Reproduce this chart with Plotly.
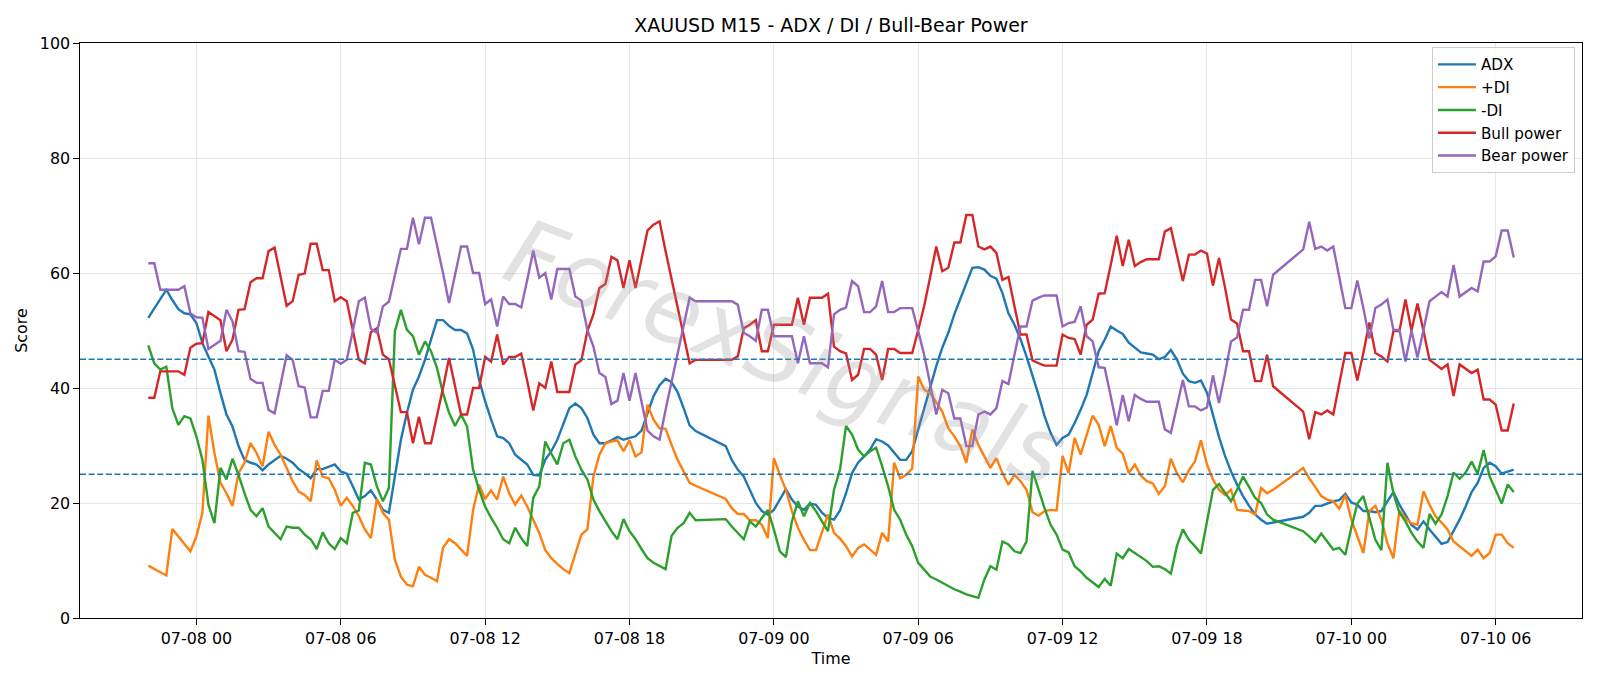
import pandas as pd
import plotly.graph_objects as go

# ---- time axis: three trading sessions of 15-minute bars (daily break 21:00-22:00) ----
segments = [("2025-07-07 22:00", "2025-07-08 20:45"),
            ("2025-07-08 22:00", "2025-07-09 20:45"),
            ("2025-07-09 22:00", "2025-07-10 06:45")]
times = []
for a, b in segments:
    times.extend(pd.date_range(a, b, freq="15min"))

# ---- series (one row = one hour, 4 bars) ----
adx = [
    52.2, 53.8, 55.5, 57.1, 55.3, 53.7, 53.0, 52.8, 51.3, 47.8, 45.5, 43.2,
    39.1, 35.4, 33.3, 29.9, 27.5, 27.0, 26.7, 25.7, 26.7, 27.5, 28.2, 27.7,
    27.0, 25.9, 25.2, 24.3, 25.9, 25.9, 26.3, 26.7, 25.5, 25.1, 22.9, 20.6,
    21.2, 22.2, 20.6, 18.8, 18.3, 24.6, 31.0, 35.7, 39.7, 42.0, 44.9, 48.4,
    51.8, 51.8, 50.8, 50.1, 50.1, 49.5, 46.7, 41.4, 37.7, 34.5, 31.6, 31.3,
    30.4, 28.4, 27.5, 26.7, 24.9, 24.8, 27.5, 29.0, 31.0, 33.9, 36.5, 37.3,
    36.5, 34.8, 31.9, 30.4, 30.4, 30.9, 31.5, 31.0, 31.3, 31.6, 32.6, 35.7,
    38.6, 40.5, 41.6, 41.0, 39.3, 36.5, 33.5, 32.5,
    29.9, 27.5, 25.8, 24.6, 22.3, 20.0, 18.6, 18.0, 18.8, 20.6, 22.4, 20.6,
    19.4, 18.8, 19.9, 19.7, 18.3, 17.4, 17.1, 18.7, 21.7, 25.2, 27.0, 28.1,
    29.3, 31.1, 30.7, 30.0, 28.7, 27.5, 27.5, 29.0, 32.8, 36.5, 40.3, 43.8,
    47.0, 49.6, 52.8, 55.4, 58.0, 60.9, 61.0, 60.6, 59.5, 59.0, 56.5, 53.0,
    51.0, 48.5, 45.5, 42.3, 38.8, 35.1, 32.2, 30.1, 31.3, 31.9, 33.9, 36.2,
    38.8, 42.6, 46.4, 48.4, 50.7, 50.0, 49.4, 47.9, 47.0, 46.2, 46.0, 45.8,
    45.0, 45.4, 46.6, 45.0, 42.5, 41.2, 40.9, 41.3, 39.2, 35.1, 31.5, 28.2,
    25.5, 23.2, 21.2, 19.5, 18.0, 17.1, 16.4, 16.6,
    17.6, 18.3, 19.5, 19.5, 19.9, 20.3, 20.5, 21.6, 20.1, 19.7, 18.6, 18.6,
    18.4, 18.6, 20.3, 21.9, 19.7, 18.0, 16.2, 15.4, 16.8, 15.4, 14.2, 12.9,
    13.2, 15.1, 17.1, 19.4, 21.9, 23.5, 26.1, 27.0, 26.4, 25.1, 25.5, 25.8,
]
plus_di = [
    9.1, 8.5, 7.9, 7.4, 15.5, 14.2, 12.8, 11.6, 14.2, 18.3, 35.2, 28.7,
    23.5, 21.7, 19.5, 25.2, 27.0, 30.4, 28.7, 26.4, 32.4, 30.1, 28.4, 26.1,
    23.8, 22.0, 21.4, 20.3, 27.4, 24.6, 24.3, 22.3, 19.5, 20.9, 19.5, 17.7,
    15.4, 13.9, 20.7, 18.3, 17.1, 10.1, 7.2, 5.8, 5.5, 8.9, 7.5, 7.0,
    6.4, 12.2, 13.7, 13.0, 11.9, 10.8, 18.8, 23.2, 20.7, 22.2, 20.6, 24.6,
    21.7, 19.7, 21.3, 19.4, 17.1, 14.8, 11.8, 10.4, 9.4, 8.5, 7.8, 11.0,
    14.5, 15.4, 24.6, 28.4, 30.4, 30.7, 30.9, 29.0, 30.9, 28.1, 28.8, 37.1,
    34.5, 33.0, 32.9, 30.1, 27.5, 25.5, 23.5, 23.0,
    20.7, 19.1, 18.1, 18.1, 17.0, 17.0, 16.2, 13.9, 27.8, 24.9, 22.3, 18.6,
    15.7, 13.6, 11.8, 11.8, 14.8, 18.0, 14.8, 13.8, 12.5, 10.7, 12.2, 12.8,
    11.9, 11.0, 14.8, 13.3, 27.0, 24.3, 24.9, 26.0, 42.0, 39.7, 39.1, 37.4,
    35.9, 33.0, 31.6, 29.9, 27.0, 32.8, 30.1, 28.1, 26.1, 27.8, 25.2, 23.2,
    24.9, 23.8, 22.3, 18.4, 17.8, 18.6, 18.8, 18.7, 28.2, 25.2, 31.3, 28.4,
    31.9, 35.2, 33.6, 29.9, 33.4, 29.6, 28.6, 25.2, 26.7, 24.8, 23.8, 23.4,
    21.6, 22.9, 27.7, 25.2, 23.6, 25.7, 27.2, 30.9, 26.7, 24.1, 22.3, 21.4,
    22.3, 18.8, 18.7, 18.6, 18.0, 22.6, 21.7, 22.3,
    26.1, 24.3, 22.8, 21.2, 20.6, 20.3, 19.0, 21.4, 17.1, 14.2, 11.3, 18.6,
    19.5, 17.1, 13.0, 10.4, 18.7, 17.3, 16.5, 16.2, 22.0, 19.7, 17.7, 16.6,
    15.4, 13.3, 12.5, 11.6, 10.8, 11.9, 10.4, 11.3, 14.5, 14.5, 13.0, 12.2,
]
minus_di = [
    47.4, 44.3, 43.2, 43.7, 36.5, 33.6, 35.1, 34.7, 31.6, 27.5, 19.7, 16.5,
    26.1, 24.1, 27.7, 24.9, 21.7, 18.8, 17.7, 19.1, 15.9, 14.8, 13.7, 15.9,
    15.7, 15.7, 14.5, 13.7, 12.0, 14.9, 13.0, 12.0, 13.9, 13.0, 18.3, 18.7,
    27.0, 26.7, 22.9, 20.3, 22.6, 49.9, 53.6, 50.1, 49.0, 45.8, 48.1, 46.4,
    43.5, 39.1, 35.7, 33.4, 35.4, 33.3, 25.8, 22.3, 19.4, 17.4, 15.7, 13.7,
    13.0, 15.7, 13.9, 12.5, 20.9, 22.9, 30.7, 28.6, 26.7, 30.4, 31.0, 28.1,
    25.8, 24.1, 20.6, 18.6, 16.8, 15.1, 13.7, 17.2, 15.1, 13.7, 12.0, 10.4,
    9.6, 9.1, 8.5, 14.3, 15.7, 16.5, 18.3, 17.0,
    17.2, 15.9, 14.8, 13.7, 16.8, 15.9, 17.4, 18.8, 15.4, 11.6, 10.6, 16.8,
    20.3, 17.7, 20.0, 18.6, 16.8, 15.1, 22.3, 25.8, 33.4, 31.9, 29.3, 28.1,
    29.0, 29.6, 26.4, 22.9, 18.8, 17.1, 14.5, 12.5, 9.6, 8.4, 7.2, 6.7,
    6.1, 5.5, 5.0, 4.6, 4.1, 3.8, 3.5, 6.7, 9.0, 8.4, 13.3, 12.8,
    11.6, 11.3, 13.3, 25.6, 22.3, 19.1, 16.2, 14.5, 11.9, 11.4, 9.0, 8.1,
    7.0, 6.2, 5.4, 6.8, 5.6, 11.2, 10.4, 12.0, 11.3, 10.6, 9.9, 8.9,
    9.0, 8.5, 7.7, 12.5, 15.4, 13.6, 12.5, 11.2, 17.1, 22.3, 23.3, 21.7,
    20.3, 22.3, 24.6, 22.8, 20.9, 20.0, 18.0, 17.1,
    15.1, 14.2, 13.2, 14.7, 13.3, 11.9, 12.2, 11.0, 15.7, 19.9, 21.2, 17.4,
    13.6, 11.8, 27.0, 21.7, 18.3, 16.8, 14.8, 13.3, 12.2, 18.1, 16.4, 18.0,
    21.2, 25.3, 24.2, 25.3, 27.2, 25.1, 29.2, 24.6, 22.3, 19.9, 23.2, 21.9,
]
bull_power = [
    38.3, 38.3, 42.9, 42.9, 42.9, 42.9, 42.3, 47.0, 47.7, 47.8, 53.2, 52.5,
    51.8, 46.4, 48.4, 53.6, 53.7, 58.4, 59.1, 59.1, 63.8, 64.4, 59.4, 54.3,
    55.1, 59.7, 59.9, 65.1, 65.1, 60.5, 60.5, 55.1, 55.8, 55.1, 50.1, 44.9,
    44.3, 49.7, 50.4, 45.8, 45.0, 40.3, 35.8, 35.8, 30.4, 35.0, 30.4, 30.4,
    35.1, 40.0, 45.2, 40.3, 35.4, 35.4, 40.0, 40.0, 45.4, 44.6, 49.3, 44.1,
    45.4, 45.4, 46.0, 41.2, 36.1, 40.8, 40.0, 44.6, 39.3, 39.3, 39.3, 44.1,
    44.8, 49.9, 52.8, 57.4, 58.1, 62.8, 62.2, 57.4, 62.2, 57.4, 62.3, 67.4,
    68.4, 69.0, 63.8, 58.8, 53.9, 49.0, 44.3, 44.9,
    44.9, 44.9, 45.5, 50.4, 51.0, 51.8, 46.4, 46.4, 51.0, 51.0, 51.0, 51.0,
    55.7, 51.0, 55.7, 55.7, 55.7, 56.4, 47.2, 46.4, 46.0, 41.4, 42.3, 46.8,
    46.8, 45.8, 41.4, 46.8, 46.8, 46.1, 46.1, 46.1, 50.1, 54.3, 59.4, 64.6,
    60.3, 60.9, 65.3, 65.3, 70.1, 70.1, 64.6, 64.1, 64.6, 63.5, 58.8, 59.3,
    54.2, 49.3, 49.3, 44.8, 44.3, 43.9, 43.9, 43.9, 49.3, 48.7, 48.5, 45.8,
    51.0, 51.9, 56.4, 56.5, 61.4, 66.5, 61.2, 65.8, 61.2, 61.9, 62.4, 62.4,
    62.4, 67.2, 67.8, 63.2, 58.6, 63.2, 63.2, 63.9, 63.4, 57.8, 62.6, 57.5,
    51.9, 51.2, 46.4, 46.4, 41.2, 41.2, 45.8, 40.3,
    35.9, 31.1, 35.8, 35.4, 36.1, 35.4, 40.6, 46.1, 46.1, 41.3, 46.1, 51.4,
    46.1, 45.5, 44.6, 49.9, 49.9, 55.4, 50.0, 54.7, 49.9, 44.9, 44.1, 43.3,
    44.1, 38.6, 44.1, 43.3, 42.6, 43.2, 38.0, 38.0, 37.1, 32.6, 32.6, 37.3,
]
bear_power = [
    61.7, 61.7, 57.1, 57.1, 57.1, 57.1, 57.7, 53.0, 52.3, 52.2, 46.8, 47.5,
    48.2, 53.6, 51.6, 46.4, 46.3, 41.6, 40.9, 40.9, 36.2, 35.6, 40.6, 45.7,
    44.9, 40.3, 40.1, 34.9, 34.9, 39.5, 39.5, 44.9, 44.2, 44.9, 49.9, 55.1,
    55.7, 50.3, 49.6, 54.2, 55.0, 59.7, 64.2, 64.2, 69.6, 65.0, 69.6, 69.6,
    64.9, 60.0, 54.8, 59.7, 64.6, 64.6, 60.0, 60.0, 54.6, 55.4, 50.7, 55.9,
    54.6, 54.6, 54.0, 58.8, 63.9, 59.2, 60.0, 55.4, 60.7, 60.7, 60.7, 55.9,
    55.2, 50.1, 47.2, 42.6, 41.9, 37.2, 37.8, 42.6, 37.8, 42.6, 37.7, 32.6,
    31.6, 31.0, 36.2, 41.2, 46.1, 51.0, 55.7, 55.1,
    55.1, 55.1, 54.5, 49.6, 49.0, 48.2, 53.6, 53.6, 49.0, 49.0, 49.0, 49.0,
    44.3, 49.0, 44.3, 44.3, 44.3, 43.6, 52.8, 53.6, 54.0, 58.6, 57.7, 53.2,
    53.2, 54.2, 58.6, 53.2, 53.2, 53.9, 53.9, 53.9, 49.9, 45.7, 40.6, 35.4,
    39.7, 39.1, 34.7, 34.7, 29.9, 29.9, 35.4, 35.9, 35.4, 36.5, 41.2, 40.7,
    45.8, 50.7, 50.7, 55.2, 55.7, 56.1, 56.1, 56.1, 50.7, 51.3, 51.5, 54.2,
    49.0, 48.1, 43.6, 43.5, 38.6, 33.5, 38.8, 34.2, 38.8, 38.1, 37.6, 37.6,
    37.6, 32.8, 32.2, 36.8, 41.4, 36.8, 36.8, 36.1, 36.6, 42.2, 37.4, 42.5,
    48.1, 48.8, 53.6, 53.6, 58.8, 58.8, 54.2, 59.7,
    64.1, 68.9, 64.2, 64.6, 63.9, 64.6, 59.4, 53.9, 53.9, 58.7, 53.9, 48.6,
    53.9, 54.5, 55.4, 50.1, 50.1, 44.6, 50.0, 45.3, 50.1, 55.1, 55.9, 56.7,
    55.9, 61.4, 55.9, 56.7, 57.4, 56.8, 62.0, 62.0, 62.9, 67.4, 67.4, 62.7,
]
threshold_levels = [45, 25]
tick_times = pd.date_range("2025-07-08 00:00", "2025-07-10 06:00", freq="6h")

series = [("ADX", adx, "#1f77b4"), ("+DI", plus_di, "#ff7f0e"), ("-DI", minus_di, "#2ca02c"),
          ("Bull power", bull_power, "#d62728"), ("Bear power", bear_power, "#9467bd")]

FONT = "DejaVu Sans"
fig = go.Figure()
for name, vals, col in series:
    fig.add_trace(go.Scatter(x=times, y=vals, mode="lines", name=name,
                             line=dict(color=col, width=2.4)))

for lv in threshold_levels:
    fig.add_shape(type="line", xref="paper", x0=0, x1=1, yref="y", y0=lv, y1=lv,
                  line=dict(color="#1f77b4", width=1.6, dash="6px,2.6px"), layer="above")

t0, t1 = times[0], times[-1]
pad = (t1 - t0) * 0.05

fig.add_annotation(text="ForexSignals", xref="paper", yref="paper", x=0.47, y=0.46,
                   showarrow=False, textangle=21,
                   font=dict(family=FONT, size=92, color="rgba(150,150,150,0.28)", style="italic"))

axis_common = dict(showline=True, linecolor="black", linewidth=1.2, mirror=True,
                   ticks="outside", ticklen=5.6, tickwidth=1.2, tickcolor="black",
                   showgrid=True, gridcolor="#e6e6e6", gridwidth=1.2, zeroline=False,
                   tickfont=dict(family=FONT, size=15.9, color="black"))

fig.update_layout(
    width=1600, height=686,
    margin=dict(l=80, r=18, t=43, b=68),
    paper_bgcolor="white", plot_bgcolor="white",
    font=dict(family=FONT, color="black"),
    title=dict(text="XAUUSD M15 - ADX / DI / Bull-Bear Power", x=0.5, xref="paper",
               y=1 - 25.5 / 686, yref="container", xanchor="center", yanchor="middle",
               font=dict(family=FONT, size=19, color="black")),
    xaxis=dict(type="date", range=[t0 - pad, t1 + pad], tickvals=list(tick_times),
               tickformat="%m-%d %H",
               title=dict(text="Time", font=dict(family=FONT, size=15.9, color="black"), standoff=6),
               **axis_common),
    yaxis=dict(range=[0, 100], tick0=0, dtick=20,
               title=dict(text="Score", font=dict(family=FONT, size=15.9, color="black"), standoff=8),
               **axis_common),
    legend=dict(x=0.9953, y=0.993, xanchor="right", yanchor="top",
                bgcolor="rgba(255,255,255,0.8)", bordercolor="#cccccc", borderwidth=1,
                font=dict(family=FONT, size=15.2, color="black"), tracegroupgap=0,
                itemwidth=38),
    showlegend=True,
)

fig.write_html("out.html")
